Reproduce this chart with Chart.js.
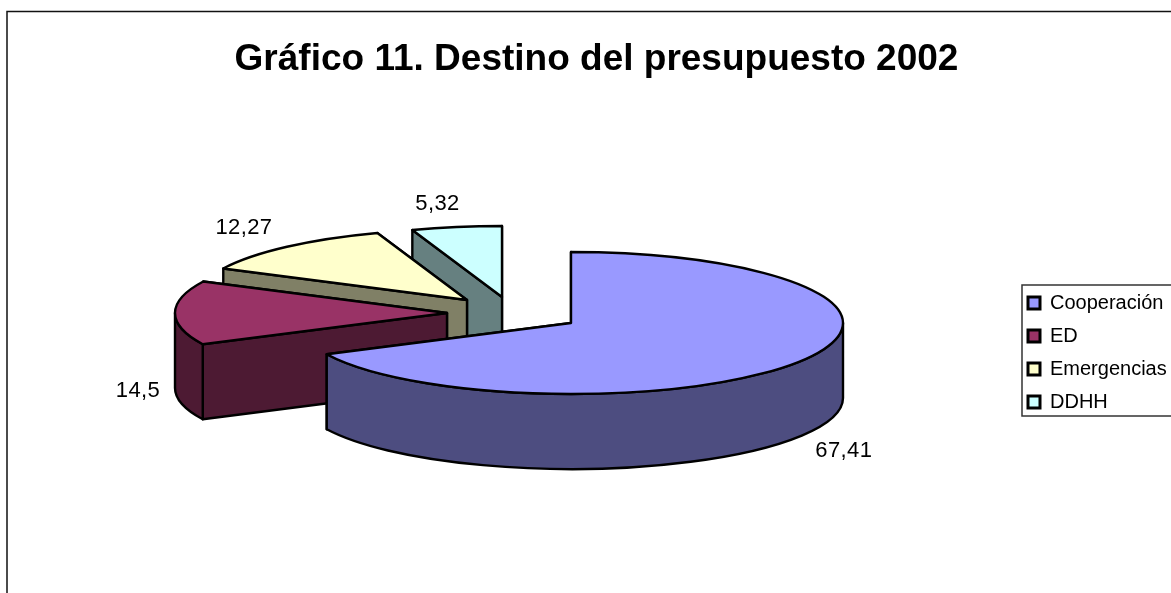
<!DOCTYPE html>
<html lang="es">
<head>
<meta charset="utf-8">
<title>Gráfico 11</title>
<script src="https://cdn.jsdelivr.net/npm/chart.js@4"></script>
<style>
  html, body { margin: 0; padding: 0; background: #fff; overflow: hidden; }
  canvas { display: block; }
</style>
</head>
<body>
<canvas id="chart" width="1171" height="593"></canvas>
<script>
var categories = ['Cooperación', 'ED', 'Emergencias', 'DDHH'];
var values = [67.41, 14.5, 12.27, 5.32];
var topColors = ['#9999FF', '#993366', '#FFFFCC', '#CCFFFF'];
var sideColors = ['#4D4D80', '#4D1A33', '#808066', '#668080'];

// dibujo: centro de cada porción en pantalla y desplazamiento de la etiqueta
var pieCenter = { x: 571, y: 323 };
var explode = [[0, 0], [-124, -10], [-104, -23], [-69, -26]];
var labelNudge = [[42, 90], [-37, 78], [-43, -19], [-19, -23]];
var pieRadius = 272;
var flatten = 71 / 272;
var depth = 75;
var FONT = '"Liberation Sans", Arial, sans-serif';

function slicePlace(i) {
  return { x: pieCenter.x + explode[i][0], y: pieCenter.y + explode[i][1] };
}

function drawSlice(ctx, el, i) {
  var p = slicePlace(i);
  var rx = el.outerRadius;
  var ry = rx * flatten;
  var a = el.startAngle;
  var b = el.endAngle;

  function edge(angle) {
    return { x: p.x + rx * Math.cos(angle), y: p.y + ry * Math.sin(angle) };
  }

  function closeFill(color) {
    ctx.closePath();
    ctx.fillStyle = color;
    ctx.fill();
    ctx.stroke();
  }

  ctx.lineWidth = 2.4;
  ctx.strokeStyle = '#000';
  ctx.lineJoin = 'round';

  // caras de corte, primero la de atrás
  [b, a].forEach(function (angle) {
    var e = edge(angle);
    ctx.beginPath();
    ctx.moveTo(p.x, p.y);
    ctx.lineTo(e.x, e.y);
    ctx.lineTo(e.x, e.y + depth);
    ctx.lineTo(p.x, p.y + depth);
    closeFill(sideColors[i]);
  });

  // pared exterior, solo la parte delantera
  var from = Math.max(a, 0);
  var to = Math.min(b, Math.PI);
  if (to > from) {
    ctx.beginPath();
    ctx.ellipse(p.x, p.y, rx, ry, 0, from, to, false);
    ctx.ellipse(p.x, p.y + depth, rx, ry, 0, to, from, true);
    closeFill(sideColors[i]);
  }

  // cara superior
  ctx.beginPath();
  ctx.moveTo(p.x, p.y);
  ctx.ellipse(p.x, p.y, rx, ry, 0, a, b, false);
  closeFill(topColors[i]);
}

var pie3d = {
  id: 'pie3d',
  beforeDraw: function (chart) {
    var ctx = chart.ctx;
    ctx.save();
    ctx.fillStyle = '#fff';
    ctx.fillRect(0, 0, chart.width, chart.height);
    ctx.strokeStyle = '#111';
    ctx.lineWidth = 1.5;
    ctx.strokeRect(7, 11.5, chart.width + 20, chart.height + 20);
    ctx.strokeStyle = '#333';
    ctx.strokeRect(1022, 285, chart.width, 131);
    ctx.restore();
  },
  afterLayout: function (chart) {
    chart.legend.left = 1015;
    chart.legend.top = 280;
  },
  beforeDatasetsDraw: function (chart) {
    var ctx = chart.ctx;
    var arcs = chart.getDatasetMeta(0).data;
    ctx.save();
    // de atrás hacia delante
    for (var i = arcs.length - 1; i >= 0; i--) {
      drawSlice(ctx, arcs[i], i);
    }
    ctx.letterSpacing = '0.4px';
    ctx.fillStyle = '#000';
    ctx.font = '22px ' + FONT;
    ctx.textAlign = 'center';
    ctx.textBaseline = 'middle';
    arcs.forEach(function (el, k) {
      var p = slicePlace(k);
      var mid = (el.startAngle + el.endAngle) / 2;
      var lx = p.x + el.outerRadius * Math.cos(mid) + labelNudge[k][0];
      var ly = p.y + el.outerRadius * flatten * Math.sin(mid) + labelNudge[k][1];
      ctx.fillText(String(values[k]).replace('.', ','), lx, ly);
    });
    ctx.restore();
    return false;
  },
};

new Chart(document.getElementById('chart'), {
  type: 'pie',
  data: {
    labels: categories,
    datasets: [
      {
        data: values,
        backgroundColor: topColors,
        borderColor: '#000',
        borderWidth: 3,
      },
    ],
  },
  options: {
    responsive: false,
    animation: false,
    radius: pieRadius,
    layout: { padding: { left: 22 } },
    plugins: {
      title: {
        display: true,
        text: 'Gráfico 11. Destino del presupuesto 2002',
        color: '#000',
        font: { family: FONT, size: 37, weight: 'bold' },
        padding: { top: 38, bottom: 10 },
      },
      legend: {
        position: 'right',
        align: 'start',
        labels: {
          color: '#000',
          boxWidth: 12,
          boxHeight: 12,
          padding: 13,
          font: { family: FONT, size: 20 },
        },
      },
      tooltip: { enabled: false },
    },
  },
  plugins: [pie3d],
});
</script>
</body>
</html>
